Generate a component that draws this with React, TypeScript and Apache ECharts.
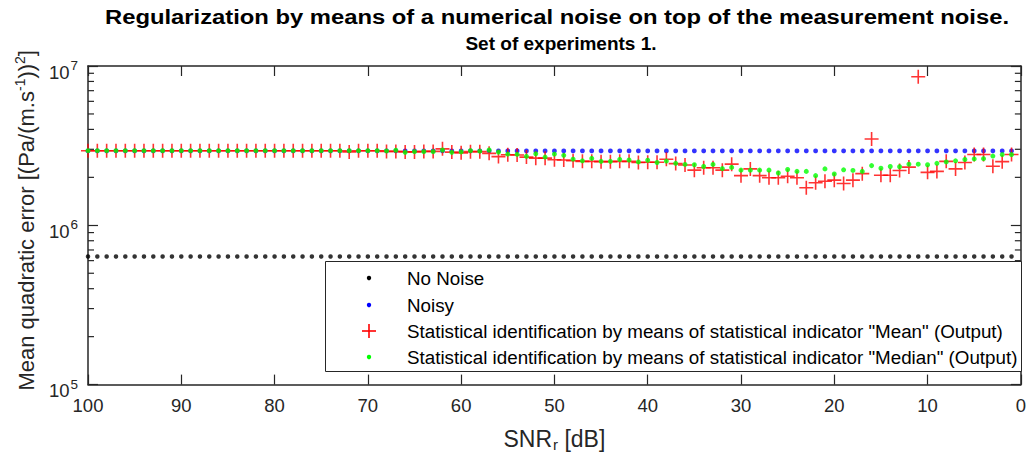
import React, { useEffect, useRef } from 'react';
import * as echarts from 'echarts';

// ---- data ----
const snrDb = [
  100, 99, 98, 97, 96, 95, 94, 93, 92, 91, 90, 89, 88, 87, 86, 85, 84, 83, 82, 81,
  80, 79, 78, 77, 76, 75, 74, 73, 72, 71, 70, 69, 68, 67, 66, 65, 64, 63, 62, 61,
  60, 59, 58, 57, 56, 55, 54, 53, 52, 51, 50, 49, 48, 47, 46, 45, 44, 43, 42, 41,
  40, 39, 38, 37, 36, 35, 34, 33, 32, 31, 30, 29, 28, 27, 26, 25, 24, 23, 22, 21,
  20, 19, 18, 17, 16, 15, 14, 13, 12, 11, 10, 9, 8, 7, 6, 5, 4, 3, 2, 1,
];

// constant reference levels (flat lines of dots in the picture)
const NO_NOISE_LEVEL = 6.37e5;
const NOISY_LEVEL = 2.93e6;

// "Mean" indicator output, SNR 100 -> 1 dB
const meanOutput = [
  2.94e6, 2.94e6, 2.94e6, 2.94e6, 2.94e6, 2.94e6, 2.94e6, 2.94e6, 2.94e6, 2.94e6,
  2.94e6, 2.94e6, 2.94e6, 2.94e6, 2.94e6, 2.94e6, 2.94e6, 2.94e6, 2.94e6, 2.94e6,
  2.94e6, 2.94e6, 2.94e6, 2.94e6, 2.94e6, 2.94e6, 2.94e6, 2.94e6,
  2.89e6, 2.94e6, 2.94e6, 2.94e6,
  2.91e6, 2.91e6, 2.89e6, 2.89e6, 2.91e6, 2.91e6,
  3.02e6, 2.88e6, 2.85e6, 2.90e6, 2.90e6, 2.83e6,
  2.70e6, 2.77e6, 2.76e6, 2.68e6, 2.64e6, 2.64e6,
  2.58e6, 2.57e6, 2.54e6, 2.52e6, 2.52e6, 2.51e6,
  2.51e6, 2.52e6, 2.52e6, 2.48e6, 2.49e6, 2.49e6,
  2.60e6, 2.44e6, 2.39e6, 2.22e6, 2.30e6, 2.30e6,
  2.22e6, 2.42e6, 2.05e6, 2.26e6, 2.05e6, 1.99e6,
  1.99e6, 2.03e6, 1.99e6, 1.72e6, 1.85e6, 1.89e6,
  1.92e6, 1.83e6, 1.92e6, 2.11e6, 3.48e6, 2.06e6,
  2.06e6, 2.21e6, 2.32e6, 8.57e6, 2.15e6, 2.18e6,
  2.52e6, 2.26e6, 2.48e6, 2.78e6, 2.78e6, 2.35e6,
  2.51e6, 2.78e6,
];

// "Median" indicator output, SNR 100 -> 1 dB
const medianOutput = [
  2.94e6, 2.94e6, 2.94e6, 2.94e6, 2.94e6, 2.94e6, 2.94e6, 2.94e6, 2.94e6, 2.94e6,
  2.94e6, 2.94e6, 2.94e6, 2.94e6, 2.94e6, 2.94e6, 2.94e6, 2.94e6, 2.94e6, 2.94e6,
  2.94e6, 2.94e6, 2.94e6, 2.94e6, 2.94e6, 2.94e6, 2.94e6, 2.94e6, 2.94e6, 2.94e6,
  2.94e6, 2.94e6,
  2.93e6, 2.96e6, 2.87e6, 2.90e6, 2.90e6, 2.90e6,
  2.97e6, 2.87e6, 2.89e6, 2.94e6, 2.92e6, 2.97e6,
  2.88e6, 2.80e6, 2.79e6, 2.71e6, 2.81e6, 2.68e6,
  2.80e6, 2.75e6, 2.60e6, 2.54e6, 2.63e6, 2.52e6,
  2.52e6, 2.59e6, 2.57e6, 2.50e6, 2.56e6, 2.48e6,
  2.53e6, 2.45e6, 2.41e6, 2.40e6, 2.34e6, 2.41e6,
  2.27e6, 2.31e6, 2.22e6, 2.22e6, 2.22e6, 2.22e6,
  2.13e6, 2.24e6, 2.18e6, 2.18e6, 2.05e6, 2.26e6,
  2.10e6, 2.23e6, 2.21e6, 2.18e6, 2.37e6, 2.28e6,
  2.34e6, 2.33e6, 2.42e6, 2.42e6, 2.40e6, 2.45e6,
  2.50e6, 2.54e6, 2.59e6, 2.61e6, 2.62e6, 2.72e6,
  2.78e6, 2.78e6,
];

const minorTickValues = [
  2e5, 3e5, 4e5, 5e5, 6e5, 7e5, 8e5, 9e5,
  2e6, 3e6, 4e6, 5e6, 6e6, 7e6, 8e6, 9e6,
];

const seriesNames = [
  'No Noise',
  'Noisy',
  'Statistical identification by means of statistical indicator "Mean" (Output)',
  'Statistical identification by means of statistical indicator "Median" (Output)',
];

const titleLines = [
  'Regularization by means of a numerical noise on top of the measurement noise.',
  'Set of experiments 1.',
];

// ---- styles ----
const FONT = '"Liberation Sans", Arial, Helvetica, sans-serif';
const AXIS = '#262626';
const C_BLACK = '#000000';
const C_BLUE = '#0000ff';
const C_RED = '#ff0000';
const C_GREEN = '#00ff00';
const PLUS = 'path://M0,6H12M6,0V12';

export default function App() {
  const ref = useRef<HTMLDivElement>(null);

  useEffect(() => {
    if (!ref.current) return;
    const chart = echarts.init(ref.current, undefined, { renderer: 'svg' });

    const rowsY = [278, 305, 331, 357];
    const iconX = 369;
    const textX = 407;
    const legendChildren: any[] = [
      {
        type: 'rect',
        shape: { x: 325.5, y: 261.5, width: 696, height: 110 },
        style: { fill: '#ffffff', stroke: AXIS, lineWidth: 1 },
        z: 100,
      },
      { type: 'circle', shape: { cx: iconX, cy: rowsY[0], r: 2.2 }, style: { fill: C_BLACK }, z: 101 },
      { type: 'circle', shape: { cx: iconX, cy: rowsY[1], r: 2.2 }, style: { fill: C_BLUE }, z: 101 },
      { type: 'line', shape: { x1: iconX - 7, y1: rowsY[2], x2: iconX + 7, y2: rowsY[2] }, style: { stroke: C_RED, lineWidth: 1.6 }, z: 101 },
      { type: 'line', shape: { x1: iconX, y1: rowsY[2] - 7, x2: iconX, y2: rowsY[2] + 7 }, style: { stroke: C_RED, lineWidth: 1.6 }, z: 101 },
      { type: 'circle', shape: { cx: iconX, cy: rowsY[3], r: 2.2 }, style: { fill: C_GREEN }, z: 101 },
    ];
    seriesNames.forEach((name, i) => {
      legendChildren.push({
        type: 'text',
        x: textX,
        y: rowsY[i],
        style: {
          text: name,
          fill: '#000000',
          fontSize: 18.8,
          fontFamily: FONT,
          verticalAlign: 'middle',
          align: 'left',
        },
        z: 101,
      });
    });

    const titleChildren: any[] = [
      {
        type: 'text',
        x: 557,
        y: 17,
        scaleX: 1.19,
        originX: 0,
        style: {
          text: titleLines[0],
          fill: '#000000',
          fontSize: 20,
          fontWeight: 'bold',
          fontFamily: FONT,
          align: 'center',
          verticalAlign: 'middle',
        },
        z: 100,
      },
      {
        type: 'text',
        x: 561,
        y: 43,
        style: {
          text: titleLines[1],
          fill: '#000000',
          fontSize: 19,
          fontWeight: 'bold',
          fontFamily: FONT,
          align: 'center',
          verticalAlign: 'middle',
        },
        z: 100,
      },
    ];

    const xAxisBase = {
      type: 'value',
      min: 0,
      max: 100,
      interval: 10,
      inverse: true,
      splitLine: { show: false },
      axisLine: { show: true, onZero: false, lineStyle: { color: AXIS, width: 1.5 } },
      axisTick: { show: true, inside: true, length: 10, lineStyle: { color: AXIS, width: 1.2 } },
    };
    const yAxisBase = {
      type: 'log',
      logBase: 10,
      min: 1e5,
      max: 1e7,
      splitLine: { show: false },
      axisLine: { show: true, onZero: false, lineStyle: { color: AXIS, width: 1.5 } },
      axisTick: { show: true, inside: true, length: 10, lineStyle: { color: AXIS, width: 1.2 } },
    };

    const option: any = {
      animation: false,
      backgroundColor: '#ffffff',
      grid: { left: 88, right: 6, top: 66, bottom: 71, containLabel: false },
      xAxis: [
        {
          ...xAxisBase,
          position: 'bottom',
          name: '{a|SNR}{r|r}{a| [dB]}',
          nameLocation: 'middle',
          nameGap: 36,
          nameTextStyle: {
            rich: {
              a: { fontSize: 23, lineHeight: 25, verticalAlign: 'top', fontFamily: FONT, color: AXIS },
              r: { fontSize: 15, lineHeight: 14, verticalAlign: 'bottom', padding: [17, 0, 0, 1], fontFamily: FONT, color: AXIS },
            },
          },
          axisLabel: {
            show: true,
            margin: 12,
            fontSize: 18.5,
            lineHeight: 18,
            fontFamily: FONT,
            color: AXIS,
            showMinLabel: true,
            showMaxLabel: true,
          },
        },
        {
          ...xAxisBase,
          position: 'top',
          axisLabel: { show: false },
        },
      ],
      yAxis: [
        {
          ...yAxisBase,
          position: 'left',
          name: '{a|Mean quadratic error [(Pa/(m.s}{s|-1}{a|))}{s|2}{a|]}',
          nameLocation: 'middle',
          nameGap: 51,
          nameTextStyle: {
            padding: [0, 0, 0, 10],
            rich: {
              a: { fontSize: 22, lineHeight: 24, verticalAlign: 'bottom', fontFamily: FONT, color: AXIS },
              s: { fontSize: 14, lineHeight: 14, verticalAlign: 'top', fontFamily: FONT, color: AXIS },
            },
          },
          axisLabel: {
            show: true,
            margin: 10,
            formatter: (v: number) => `{b|10}{s|${Math.round(Math.log10(v))}}`,
            rich: {
              b: { fontSize: 18.5, verticalAlign: 'bottom', padding: [12, 0, 0, 0], fontFamily: FONT, color: AXIS },
              s: { fontSize: 13.5, verticalAlign: 'top', padding: [8, 0, 0, 1], fontFamily: FONT, color: AXIS },
            },
          },
        },
        {
          ...yAxisBase,
          position: 'right',
          axisLabel: { show: false },
        },
      ],
      graphic: [
        { type: 'group', children: titleChildren },
        { type: 'group', children: legendChildren },
      ],
      series: [
        {
          type: 'custom',
          name: 'minorTicks',
          silent: true,
          xAxisIndex: 0,
          yAxisIndex: 0,
          data: minorTickValues.map((v) => [0, v]),
          renderItem: (params: any, api: any) => {
            const y = api.coord([0, api.value(1)])[1];
            const cs = params.coordSys;
            const ls = { stroke: AXIS, lineWidth: 1.2 };
            return {
              type: 'group',
              children: [
                { type: 'line', shape: { x1: cs.x, y1: y, x2: cs.x + 6, y2: y }, style: ls },
                { type: 'line', shape: { x1: cs.x + cs.width - 6, y1: y, x2: cs.x + cs.width, y2: y }, style: ls },
              ],
            };
          },
          z: 1,
        },
        {
          type: 'scatter',
          name: seriesNames[0],
          symbol: 'circle',
          symbolSize: 4.5,
          itemStyle: { color: C_BLACK },
          data: snrDb.map((d) => [d, NO_NOISE_LEVEL]),
          z: 2,
        },
        {
          type: 'scatter',
          name: seriesNames[1],
          symbol: 'circle',
          symbolSize: 4.8,
          itemStyle: { color: C_BLUE },
          data: snrDb.map((d) => [d, NOISY_LEVEL]),
          z: 3,
        },
        {
          type: 'scatter',
          name: seriesNames[2],
          symbol: PLUS,
          symbolSize: 14,
          itemStyle: { color: 'transparent', borderColor: C_RED, borderWidth: 1.6 },
          data: snrDb.map((d, i) => [d, meanOutput[i]]),
          z: 4,
        },
        {
          type: 'scatter',
          name: seriesNames[3],
          symbol: 'circle',
          symbolSize: 5,
          itemStyle: { color: C_GREEN },
          data: snrDb.map((d, i) => [d, medianOutput[i]]),
          z: 5,
        },
      ],
    };

    chart.setOption(option);
    return () => {
      chart.dispose();
    };
  }, []);

  return (
    <div
      ref={ref}
      style={{ position: 'absolute', left: 0, top: 0, width: 1029, height: 457, background: '#ffffff' }}
    />
  );
}
